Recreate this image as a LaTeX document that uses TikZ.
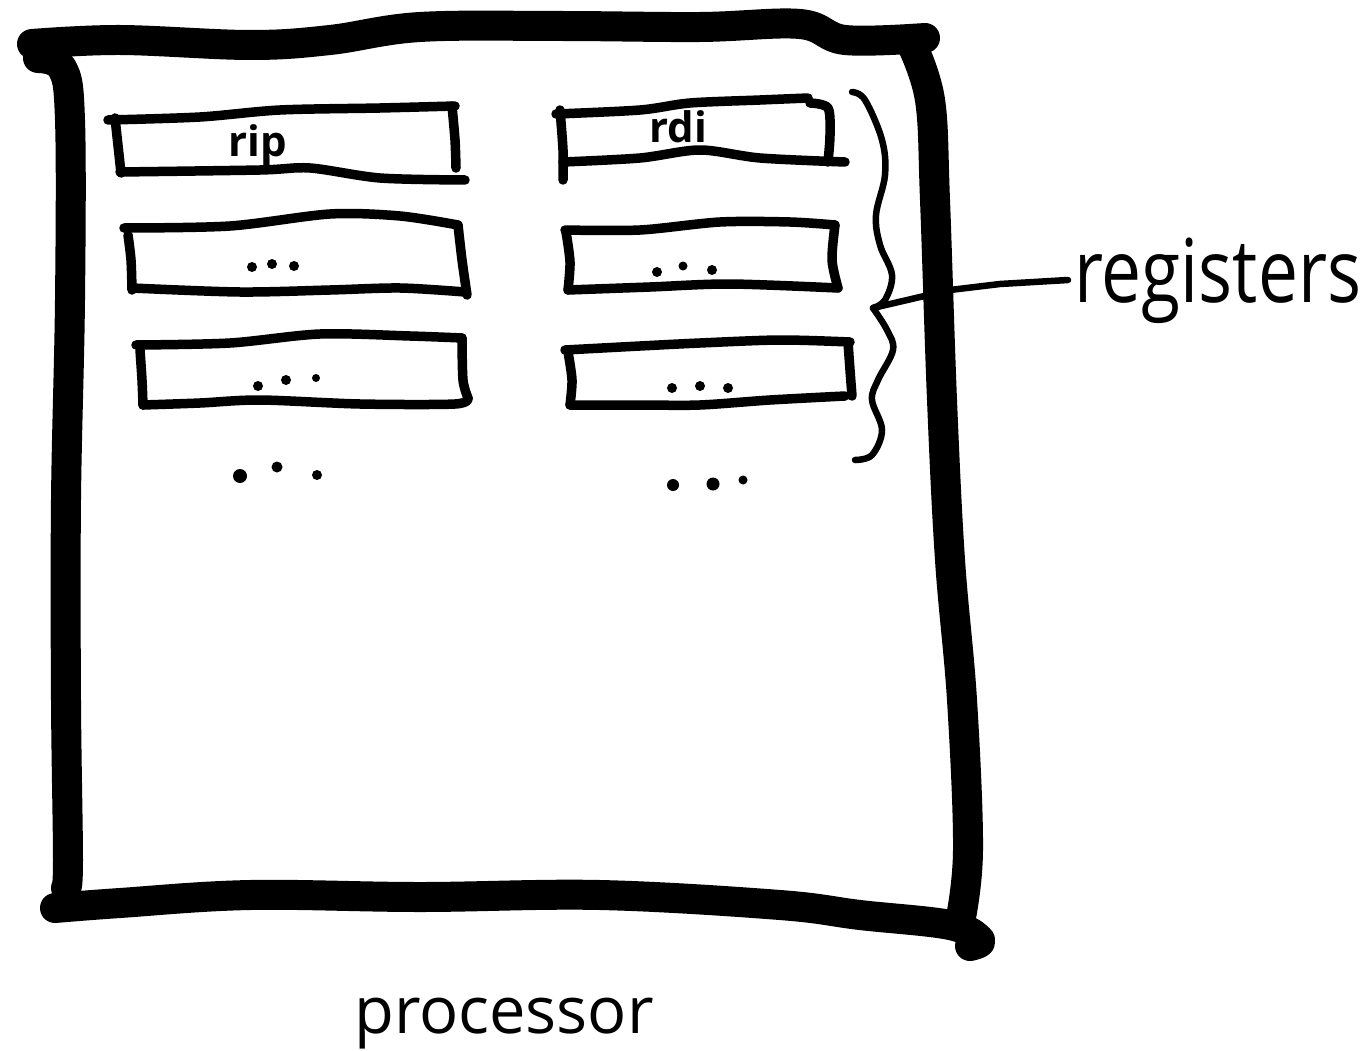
\documentclass[tikz,border=0pt]{standalone}
\usepackage{fontspec}
\setmainfont{Open Sans}
\newfontfamily\handfont{Open Sans}
\begin{document}
\begin{tikzpicture}[x=1pt,y=-1pt,
  frame/.style={line width=30pt,line cap=round,line join=round},
  reg/.style={line width=9.5pt,line cap=round,line join=round},
  brace/.style={line width=6.5pt,line cap=round,line join=round},
  hand/.style={font=\handfont\bfseries\fontsize{42}{44}\selectfont,inner sep=0pt}]
\useasboundingbox (0,0) rectangle (1372,1051);

% processor outline
\draw[frame] plot[smooth,tension=0.6] coordinates {(32,44) (120,40) (250,45) (330,40) (420,27) (560,26) (700,27) (800,24) (845,40) (925,38)};
\draw[frame] plot[smooth,tension=0.6] coordinates {(38,58) (62,68) (70,120) (70,300) (66,500) (66,700) (68,860) (66,888)};
\draw[frame] plot[smooth,tension=0.6] coordinates {(912,45) (930,100) (935,200) (942,400) (950,560) (962,700) (968,850) (960,922)};
\draw[frame] plot[smooth,tension=0.6] coordinates {(55,908) (120,903) (250,895) (420,897) (600,895) (780,905) (860,915) (950,925) (980,940) (970,946)};

% register boxes, left column
\draw[reg] plot[smooth] coordinates {(108,120) (200,117) (280,110) (380,108) (455,106)};
\draw[reg] (115,118) -- (121,173);
\draw[reg] plot[smooth] coordinates {(452,106) (455,140) (456,168)};
\draw[reg] plot[smooth] coordinates {(120,172) (260,170) (310,168) (380,178) (465,180)};
\node[hand] (rip) at (258,146) {rip};

\draw[reg] plot[smooth] coordinates {(124,228) (230,226) (330,214) (400,216) (458,225)};
\draw[reg] plot[smooth] coordinates {(128,235) (131,260) (132,290)};
\draw[reg] plot[smooth] coordinates {(458,225) (462,260) (467,295)};
\draw[reg] plot[smooth] coordinates {(132,288) (240,292) (330,290) (400,288) (465,292)};
\fill (252,267) circle (5pt) (272,264) circle (5pt) (294,266) circle (5pt);

\draw[reg] plot[smooth] coordinates {(136,345) (230,343) (320,334) (410,336) (462,338)};
\draw[reg] plot[smooth] coordinates {(140,350) (142,380) (143,405)};
\draw[reg] plot[smooth] coordinates {(462,338) (463,380) (468,398)};
\draw[reg] plot[smooth] coordinates {(143,405) (200,403) (260,400) (360,404) (455,404) (468,398)};
\fill (258,386) circle (5pt) (286,380) circle (5pt) (316,378) circle (4pt);

\fill (240,476) circle (7pt) (277,467) circle (5.5pt) (317,475) circle (5pt);

% register boxes, right column
\draw[reg] plot[smooth] coordinates {(556,114) (640,110) (690,103) (760,100) (808,98)};
\draw[reg] plot[smooth] coordinates {(560,110) (563,150) (563,180)};
\draw[reg] plot[smooth] coordinates {(810,103) (828,108) (830,135) (828,162)};
\draw[reg] plot[smooth] coordinates {(563,162) (640,158) (700,150) (760,158) (845,162)};
\node[hand] (rdi) at (678,127) {rdi};

\draw[reg] plot[smooth] coordinates {(565,230) (640,230) (720,222) (790,222) (835,225)};
\draw[reg] plot[smooth] coordinates {(566,232) (570,262) (568,290)};
\draw[reg] plot[smooth] coordinates {(835,225) (832,260) (838,288)};
\draw[reg] plot[smooth] coordinates {(568,290) (650,287) (730,284) (838,288)};
\fill (657,272) circle (5pt) (683,266) circle (4.5pt) (712,270) circle (5pt);

\draw[reg] plot[smooth] coordinates {(565,350) (640,346) (700,343) (780,340) (850,342)};
\draw[reg] plot[smooth] coordinates {(568,352) (572,380) (570,405)};
\draw[reg] plot[smooth] coordinates {(848,342) (850,370) (852,396)};
\draw[reg] plot[smooth] coordinates {(570,405) (640,405) (700,405) (770,400) (845,396)};
\fill (672,388) circle (5pt) (700,386) circle (5pt) (728,388) circle (5pt);

\fill (673,485) circle (6pt) (713,484) circle (6.5pt) (743,480) circle (4.5pt);

% brace grouping the registers
\coordinate (tip) at (873,308);
\draw[brace] plot[smooth,tension=0.6] coordinates {(852,92) (865,100) (882,140) (885,175) (876,215) (880,245) (892,275) (885,300) (873,308)};
\draw[brace] plot[smooth,tension=0.6] coordinates {(873,308) (887,330) (893,350) (878,380) (872,400) (882,430) (872,455) (855,460)};

% label
\node[font=\handfont\fontsize{88}{92}\selectfont,xscale=0.81,anchor=base west,inner sep=0pt] (registers) at (1074,302) {registers};
\draw[brace] (tip) -- (950,290) -- (1000,284) -- (1068,280);

\node[font=\fontsize{65}{70}\selectfont,inner sep=0pt,anchor=base] (proc) at (504,1033) {processor};
\end{tikzpicture}
\end{document}
